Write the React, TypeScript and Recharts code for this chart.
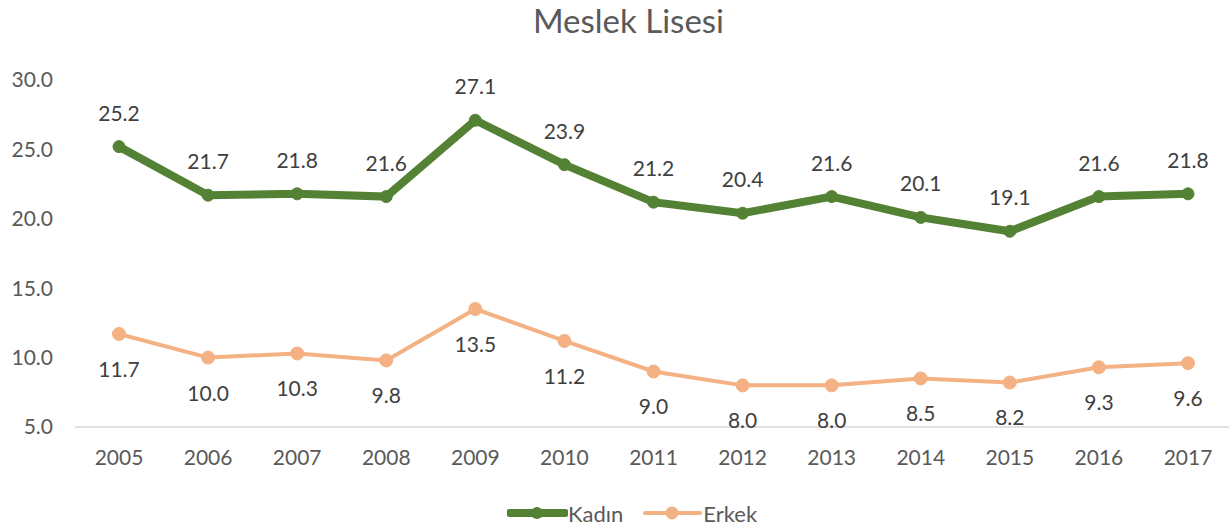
import { LineChart, Line, XAxis, YAxis, LabelList } from 'recharts';

const years = ['2005', '2006', '2007', '2008', '2009', '2010', '2011', '2012', '2013', '2014', '2015', '2016', '2017'];
const kadin = [25.2, 21.7, 21.8, 21.6, 27.1, 23.9, 21.2, 20.4, 21.6, 20.1, 19.1, 21.6, 21.8];
const erkek = [11.7, 10.0, 10.3, 9.8, 13.5, 11.2, 9.0, 8.0, 8.0, 8.5, 8.2, 9.3, 9.6];
const yTicks = [5, 10, 15, 20, 25, 30];

const GREEN = '#548235';
const ORANGE = '#F4B183';
const FONT = 'Lato, "Open Sans", sans-serif';

const data = years.map((y, i) => ({ year: y, kadin: kadin[i], erkek: erkek[i] }));

export default function App() {
  return (
    <div style={{ position: 'absolute', left: 0, top: 0, width: 1229, height: 531, overflow: 'hidden', background: '#fff', fontFamily: FONT }}>
      <div style={{ position: 'absolute', left: 14, top: 0, width: 1229, textAlign: 'center', fontSize: 33, color: '#595959', lineHeight: '40px' }}>
        Meslek Lisesi
      </div>
      <LineChart width={1240} height={531} data={data} margin={{ top: 80, right: 8, left: 0, bottom: 74 }}>
        <XAxis
          dataKey="year"
          tickLine={false}
          axisLine={{ stroke: '#d9d9d9', strokeWidth: 1.5 }}
          tick={{ fontSize: 21, fill: '#595959', fontFamily: FONT }}
          tickMargin={17}
          interval={0}
          padding={{ left: 44, right: 44 }}
        />
        <YAxis
          width={75}
          domain={[5, 30]}
          ticks={yTicks}
          tickFormatter={(v) => v.toFixed(1)}
          axisLine={false}
          tickLine={false}
          tickMargin={16}
          tick={{ fontSize: 21, fill: '#595959', fontFamily: FONT }}
        />
        <Line
          dataKey="kadin"
          stroke={GREEN}
          strokeWidth={8}
          dot={{ r: 6, fill: GREEN, stroke: GREEN, strokeWidth: 1 }}
          isAnimationActive={false}
        >
          <LabelList dataKey="kadin" position="top" offset={26} formatter={(v: number) => v.toFixed(1)} style={{ fontSize: 21, fill: '#404040', fontFamily: FONT }} />
        </Line>
        <Line
          dataKey="erkek"
          stroke={ORANGE}
          strokeWidth={4}
          dot={{ r: 6.5, fill: ORANGE, stroke: ORANGE, strokeWidth: 1 }}
          isAnimationActive={false}
        >
          <LabelList dataKey="erkek" position="bottom" offset={28} formatter={(v: number) => v.toFixed(1)} style={{ fontSize: 21, fill: '#404040', fontFamily: FONT }} />
        </Line>
      </LineChart>
      <div style={{ position: 'absolute', left: 507, top: 500, height: 26, display: 'flex', alignItems: 'center', fontSize: 22, color: '#595959' }}>
        <svg width={61} height={26}>
          <line x1={3} y1={13} x2={58} y2={13} stroke={GREEN} strokeWidth={8} strokeLinecap="round" />
          <circle cx={30} cy={13} r={6} fill={GREEN} />
        </svg>
        <span>Kadın</span>
        <svg width={60} height={26} style={{ marginLeft: 20 }}>
          <line x1={2} y1={13} x2={57} y2={13} stroke={ORANGE} strokeWidth={4} strokeLinecap="round" />
          <circle cx={29} cy={13} r={6.5} fill={ORANGE} />
        </svg>
        <span>Erkek</span>
      </div>
    </div>
  );
}
